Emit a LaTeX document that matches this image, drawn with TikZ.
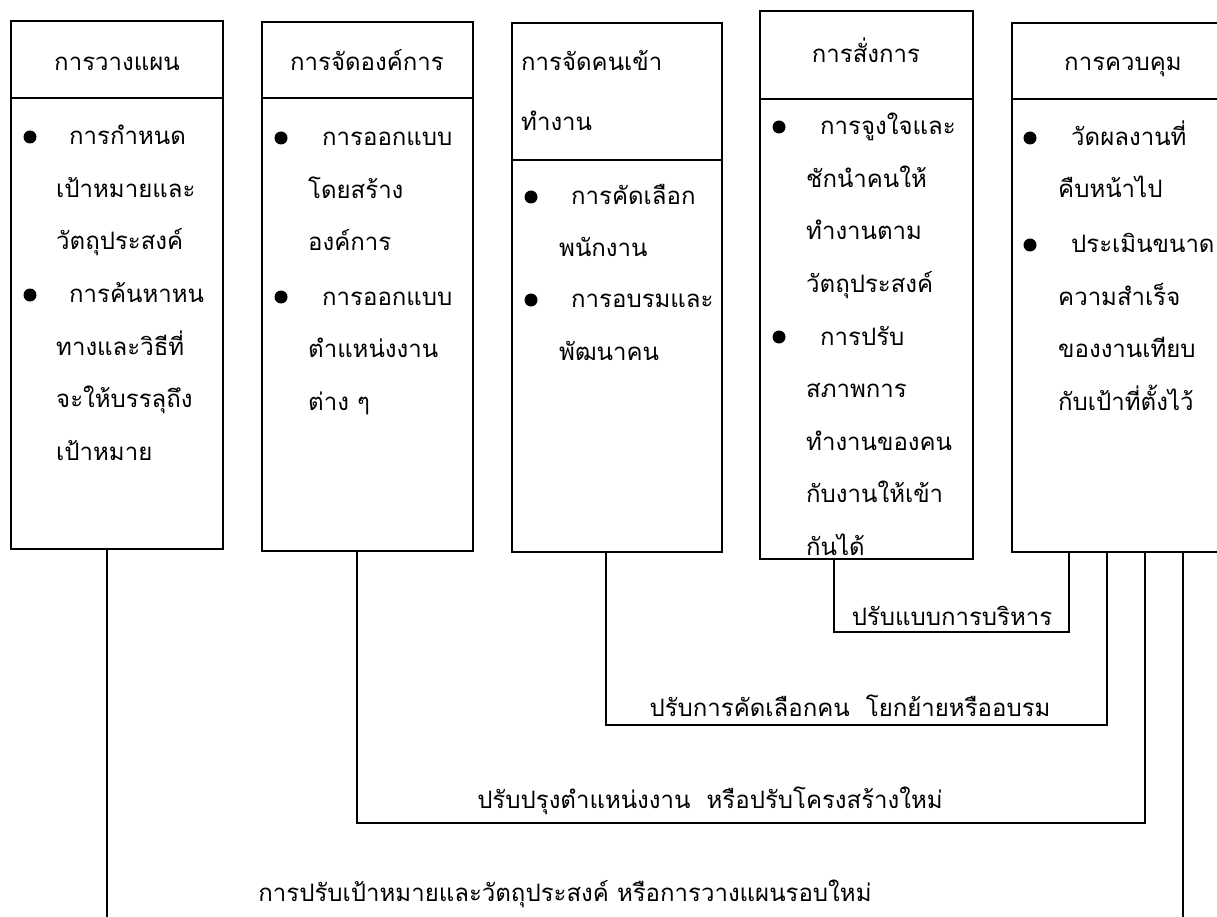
\documentclass[tikz,border=0pt]{standalone}
\usepackage{fontspec}
\newfontfamily\thaifont[Script=Thai]{Loma}
\begin{document}
\begin{tikzpicture}[x=1pt,y=-1pt,
    box/.style={draw, line width=1.6pt, inner sep=0pt},
    rule/.style={line width=1.6pt},
    link/.style={line width=1.3pt},
    txt/.style={font=\thaifont\fontsize{24}{52.5}\selectfont, inner sep=0pt, align=left, anchor=base west},
    head/.style={font=\thaifont\fontsize{24}{52.5}\selectfont, inner sep=0pt, anchor=base},
    dot/.style={circle, fill, inner sep=0pt, minimum size=13pt}]
    \useasboundingbox (0,0) rectangle (1217,917);
    \clip (0,0) rectangle (1217,917);

    % Gruppen
    \node[box, minimum width=212pt, minimum height=528pt] (plan) at (117,285) {};
    \node[box, minimum width=211pt, minimum height=529pt] (org) at (367.5,286.5) {};
    \node[box, minimum width=210pt, minimum height=529pt] (staff) at (617,287.5) {};
    \node[box, minimum width=213pt, minimum height=548pt] (lead) at (866.5,285) {};
    \node[box, minimum width=212pt, minimum height=529pt] (ctrl) at (1118,287.5) {};

    \draw[rule] ([yshift=-78pt]plan.north west) -- ([yshift=-78pt]plan.north east);
    \draw[rule] ([yshift=-77pt]org.north west) -- ([yshift=-77pt]org.north east);
    \draw[rule] ([yshift=-138pt]staff.north west) -- ([yshift=-138pt]staff.north east);
    \draw[rule] ([yshift=-89pt]lead.north west) -- ([yshift=-89pt]lead.north east);
    \draw[rule] ([yshift=-77pt]ctrl.north west) -- ([yshift=-77pt]ctrl.north east);

    % Titel (Anker = Grundlinie der letzten Zeile)
    \node[head] (planT) at (117,71) {การวางแผน};
    \node[head] (orgT) at (367,71) {การจัดองค์การ};
    \node[txt] (staffT) at (521,131) {การจัดคนเข้า\\[7.5pt]ทำงาน};
    \node[head] (leadT) at (866,63) {การสั่งการ};
    \node[head] (ctrlT) at (1123,71) {การควบคุม};

    % Punkte
    \node[dot] (planA) at (30,137) {};
    \node[txt] (planAt) at (56,250) {\hspace*{13pt}การกำหนด\\เป้าหมายและ\\วัตถุประสงค์};
    \node[dot] (planB) at (30,295) {};
    \node[txt] (planBt) at (56,460) {\hspace*{13pt}การค้นหาหน\\ทางและวิธีที่\\จะให้บรรลุถึง\\เป้าหมาย};

    \node[dot] (orgA) at (281,138) {};
    \node[txt] (orgAt) at (308,251) {\hspace*{14pt}การออกแบบ\\โดยสร้าง\\องค์การ};
    \node[dot] (orgB) at (281,297) {};
    \node[txt] (orgBt) at (308,410) {\hspace*{14pt}การออกแบบ\\ตำแหน่งงาน\\ต่าง ๆ};

    \node[dot] (staffA) at (531,197) {};
    \node[txt] (staffAt) at (559,257) {\hspace*{12pt}การคัดเลือก\\พนักงาน};
    \node[dot] (staffB) at (531,300) {};
    \node[txt] (staffBt) at (559,360) {\hspace*{12pt}การอบรมและ\\พัฒนาคน};

    \node[dot] (leadA) at (779,127) {};
    \node[txt] (leadAt) at (806,292) {\hspace*{14pt}การจูงใจและ\\ชักนำคนให้\\ทำงานตาม\\วัตถุประสงค์};
    \node[dot] (leadB) at (779,337) {};
    \node[txt] (leadBt) at (806,555) {\hspace*{14pt}การปรับ\\สภาพการ\\ทำงานของคน\\กับงานให้เข้า\\กันได้};

    \node[dot] (ctrlA) at (1030,138) {};
    \node[txt] (ctrlAt) at (1058,198) {\hspace*{13pt}วัดผลงานที่\\คืบหน้าไป};
    \node[dot] (ctrlB) at (1030,245) {};
    \node[txt] (ctrlBt) at (1058,410) {\hspace*{13pt}ประเมินขนาด\\ความสำเร็จ\\ของงานเทียบ\\กับเป้าที่ตั้งไว้};

    % Rueckkopplung
    \coordinate (leadTurn) at (834,632);
    \coordinate (staffTurn) at (606,725);
    \coordinate (orgTurn) at (357,823);
    \coordinate (planEnd) at (107,930);
    \coordinate (ctrlEnd) at (1183,930);

    \draw[link] (lead.south -| leadTurn) -- (leadTurn) -| (ctrl.south -| 1069,0);
    \draw[link] (staff.south -| staffTurn) -- (staffTurn) -| (ctrl.south -| 1107,0);
    \draw[link] (org.south -| orgTurn) -- (orgTurn) -| (ctrl.south -| 1145,0);
    \draw[link] (plan.south -| planEnd) -- (planEnd);
    \draw[link] (ctrl.south -| ctrlEnd) -- (ctrlEnd);

    \node[head] (leadL) at (952,625) {ปรับแบบการบริหาร};
    \node[head] (staffL) at (850,716) {ปรับการคัดเลือกคน\hspace{8pt} โยกย้ายหรืออบรม};
    \node[head] (orgL) at (710,808) {ปรับปรุงตำแหน่งงาน\hspace{8pt} หรือปรับโครงสร้างใหม่};
    \node[head] (planL) at (565,901) {การปรับเป้าหมายและวัตถุประสงค์ หรือการวางแผนรอบใหม่};
\end{tikzpicture}
\end{document}
